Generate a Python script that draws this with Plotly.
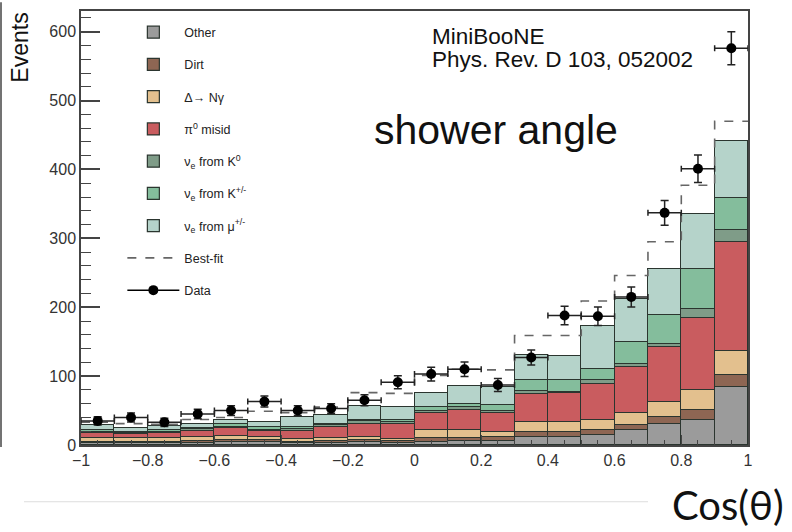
import plotly.graph_objects as go

# ---------------- data ----------------
bin_edges = [-1.0, -0.9, -0.8, -0.7, -0.6, -0.5, -0.4, -0.3, -0.2, -0.1, 0.0,
             0.1, 0.2, 0.3, 0.4, 0.5, 0.6, 0.7, 0.8, 0.9, 1.0]
bin_centers = [-0.95, -0.85, -0.75, -0.65, -0.55, -0.45, -0.35, -0.25, -0.15, -0.05,
               0.05, 0.15, 0.25, 0.35, 0.45, 0.55, 0.65, 0.75, 0.85, 0.95]

other = [2.5, 2.5, 2.5, 3.5, 4, 4.3, 3, 3, 4, 3, 5, 6, 6, 12, 12, 14.5, 21.7, 31, 36, 84]
dirt = [2.5, 2, 2.5, 2.5, 3, 2.7, 2, 3, 3, 3, 4.6, 3.6, 5, 7, 7, 7.2, 7.3, 10, 15, 18]
delta_ngamma = [5.5, 5, 5.5, 6, 6.5, 4, 4, 3.6, 4, 3, 12.1, 12.1, 8.5, 14.7, 14.7, 14.3, 17, 22, 29, 35]
pi0_misid = [7.5, 6.5, 7.5, 9, 10.5, 9, 11.7, 16.9, 20, 21, 24.3, 29.3, 26.5, 40.3, 41.3, 53, 67, 79, 105, 158]
nue_k0 = [1.5, 1.5, 1.5, 2, 2, 2, 2.3, 2.5, 3.5, 3, 4, 4, 3, 5, 2, 5, 5, 5, 12, 17]
nue_kpm = [2.5, 2, 2.5, 2, 4, 4, 3.5, 2, 2.5, 3, 5, 5, 9, 15, 17, 17, 31, 41, 58, 47]
nue_mu = [7, 4.5, 5, 6, 6, 8, 13.5, 12, 20, 19, 21, 25, 26, 36, 35, 62, 63, 68, 81, 83]

best_fit = [33, 31, 30, 37, 40, 49, 47, 55, 76, 75, 101, 110, 109, 159, 159, 209, 246, 295, 377, 470]

data = [35, 40, 33, 45, 50, 63, 50, 53, 65, 91, 103, 110, 87, 127, 188, 187, 215, 337, 401, 576]
data_err = [6, 6.5, 6, 7, 7, 8, 7, 7, 8, 9.5, 10, 10.5, 9.5, 11, 13.5, 13.5, 14.5, 18, 20, 24]
bin_half = [0.05] * 20

y_ticks = [0, 100, 200, 300, 400, 500, 600]
x_ticks = [-1, -0.8, -0.6, -0.4, -0.2, 0, 0.2, 0.4, 0.6, 0.8, 1]
x_tick_text = ["−1", "−0.8", "−0.6", "−0.4", "−0.2", "0", "0.2", "0.4", "0.6", "0.8", "1"]

components = [
    ("Other", other, "#9b9b9b"),
    ("Dirt", dirt, "#8e6653"),
    ("Δ→ Nγ", delta_ngamma, "#e3c08e"),
    ("π<sup>0</sup> misid", pi0_misid, "#c95c5f"),
    ("ν<sub>e</sub> from K<sup>0</sup>", nue_k0, "#7f9c88"),
    ("ν<sub>e</sub> from K<sup>+/-</sup>", nue_kpm, "#84bd9c"),
    ("ν<sub>e</sub> from μ<sup>+/-</sup>", nue_mu, "#b5d3ca"),
]

fig = go.Figure()
for i, (name, vals, col) in enumerate(components):
    fig.add_trace(go.Bar(
        x=bin_centers, y=vals, width=0.1, name=name,
        marker=dict(color=col, line=dict(color="#2b352f", width=1.2)),
        legendgroup=f"g{i}",
    ))

fig.add_trace(go.Scatter(
    x=bin_edges, y=best_fit + [best_fit[-1]], mode="lines", line_shape="hv",
    line=dict(color="#666666", width=1.6, dash="dash"),
    name="Best-fit", legendgroup="gbf",
))

fig.add_trace(go.Scatter(
    x=bin_centers, y=data, mode="markers",
    marker=dict(color="black", size=10),
    error_y=dict(type="data", array=data_err, color="#222", thickness=1.5, width=4),
    error_x=dict(type="data", array=bin_half, color="#222", thickness=1.5, width=3),
    showlegend=False, name="Data",
))
fig.add_trace(go.Scatter(
    x=[None], y=[None], mode="lines+markers", name="Data",
    marker=dict(color="black", size=10), line=dict(color="black", width=1.5),
    legendgroup="gdata",
))

axis_font = dict(family="Liberation Sans, Arial, sans-serif", size=16, color="#333333")

fig.update_layout(
    width=792, height=532,
    margin=dict(l=81, r=44, t=9, b=87),
    paper_bgcolor="white", plot_bgcolor="white",
    barmode="stack", bargap=0,
    showlegend=True,
    legend=dict(x=0.062, y=0.985, xanchor="left", yanchor="top",
                bgcolor="rgba(0,0,0,0)", font=dict(family="Liberation Sans, Arial, sans-serif",
                                                    size=12.5, color="#222"),
                tracegroupgap=13, traceorder="grouped", itemwidth=52),
    xaxis=dict(range=[-1, 1], tickvals=x_ticks, ticktext=x_tick_text, tickangle=0,
               ticks="inside", ticklen=10,
               tickcolor="#444", tickwidth=1.3, showline=True, linecolor="#444",
               linewidth=1.5, mirror=True, showgrid=False, zeroline=False,
               tickfont=axis_font,
               minor=dict(ticks="inside", ticklen=5, dtick=0.05, tick0=0,
                          tickcolor="#444", tickwidth=1, showgrid=False)),
    yaxis=dict(range=[0, 630], tickvals=y_ticks, ticks="inside", ticklen=19,
               tickcolor="#444", tickwidth=1.5, showline=True, linecolor="#444",
               linewidth=1.5, mirror=True, showgrid=False, zeroline=False,
               tickfont=axis_font,
               minor=dict(ticks="inside", ticklen=10, dtick=20, tick0=0,
                          tickcolor="#444", tickwidth=1, showgrid=False)),
)

fig.add_annotation(text="Events", xref="paper", yref="paper",
                   x=-0.092, y=1.0, xanchor="center", yanchor="top",
                   textangle=-90, showarrow=False,
                   font=dict(family="Liberation Sans, Arial, sans-serif", size=23, color="#111"))
fig.add_annotation(text="MiniBooNE", xref="paper", yref="paper",
                   x=(430 - 81) / 667, y=(445 - 35) / 436, xanchor="left", yanchor="middle",
                   showarrow=False,
                   font=dict(family="Liberation Sans, Arial, sans-serif", size=22.5, color="#111"))
fig.add_annotation(text="Phys. Rev. D 103, 052002", xref="paper", yref="paper",
                   x=(430 - 81) / 667, y=(445 - 58) / 436, xanchor="left", yanchor="middle",
                   showarrow=False,
                   font=dict(family="Liberation Sans, Arial, sans-serif", size=22.5, color="#111"))
fig.add_annotation(text="shower angle", xref="paper", yref="paper",
                   x=(372 - 81) / 667, y=(445 - 129) / 436, xanchor="left", yanchor="middle",
                   showarrow=False,
                   font=dict(family="Liberation Sans, Arial, sans-serif", size=41, color="#111"))
fig.add_annotation(text="Cos(θ)", xref="paper", yref="paper",
                   x=(786 - 81) / 667, y=(445 - 505) / 436, xanchor="right", yanchor="middle",
                   showarrow=False,
                   font=dict(family="Lato, Open Sans, sans-serif", size=40, color="#111"))

# slide decorations
fig.add_shape(type="line", xref="paper", yref="paper",
              x0=(24 - 81) / 667, x1=(648 - 81) / 667,
              y0=(445 - 502) / 436, y1=(445 - 502) / 436,
              line=dict(color="#dddddd", width=1))
fig.add_shape(type="line", xref="paper", yref="paper",
              x0=(1 - 81) / 667, x1=(1 - 81) / 667,
              y0=(445 - 447) / 436, y1=1.02,
              line=dict(color="#444", width=1.5))

fig.write_html("out.html")
